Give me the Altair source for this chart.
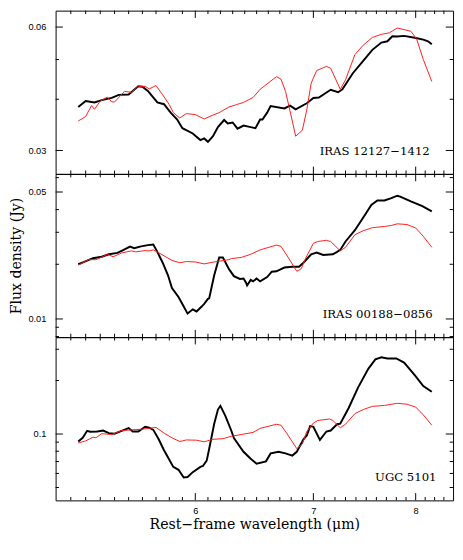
import altair as alt
import pandas as pd

# ---------------- data (wavelength in micron, flux density in Jy) ----------------
# Panel 1: IRAS 12127-1412
p1_black_wl = [5.15, 5.20, 5.26, 5.31, 5.38, 5.43, 5.50, 5.57, 5.60, 5.64, 5.71, 5.76, 5.81, 5.86, 5.90,
               5.98, 6.04, 6.07, 6.10, 6.14, 6.18, 6.23, 6.26, 6.30, 6.34, 6.39, 6.45, 6.49, 6.53, 6.55,
               6.59, 6.62, 6.74, 6.79, 6.84, 6.94, 7.00, 7.05, 7.16, 7.23, 7.27, 7.37, 7.46, 7.56, 7.65,
               7.71, 7.76, 7.81, 7.88, 7.99, 8.08, 8.13, 8.17]
p1_black_f = [0.0383, 0.0396, 0.0393, 0.0398, 0.0403, 0.0410, 0.0411, 0.0430, 0.0429, 0.0419, 0.0393,
              0.0389, 0.0371, 0.0357, 0.0340, 0.0330, 0.0318, 0.0321, 0.0315, 0.0325, 0.0342, 0.0356,
              0.0349, 0.0351, 0.0339, 0.0345, 0.0342, 0.0340, 0.0357, 0.0357, 0.0371, 0.0385, 0.0380,
              0.0386, 0.0378, 0.0391, 0.0403, 0.0404, 0.0422, 0.0416, 0.0423, 0.0463, 0.0493, 0.0528,
              0.0550, 0.0554, 0.0570, 0.0569, 0.0571, 0.0565, 0.0559, 0.0554, 0.0545]
p1_red_wl = [5.15, 5.20, 5.24, 5.26, 5.30, 5.35, 5.38, 5.40, 5.47, 5.52, 5.57, 5.62, 5.65, 5.70, 5.75,
             5.80, 5.83, 5.88, 5.93, 6.00, 6.07, 6.14, 6.19, 6.27, 6.33, 6.39, 6.47, 6.53, 6.67, 6.71,
             6.75, 6.80, 6.84, 6.90, 6.94, 6.98, 7.03, 7.12, 7.16, 7.25, 7.30, 7.39, 7.47, 7.56, 7.65,
             7.73, 7.81, 7.95, 8.01, 8.08, 8.17]
p1_red_f = [0.0354, 0.0363, 0.0386, 0.0378, 0.0396, 0.0405, 0.0394, 0.0394, 0.0418, 0.0416, 0.0430,
            0.0430, 0.0424, 0.0432, 0.0410, 0.0388, 0.0371, 0.0360, 0.0369, 0.0367, 0.0358, 0.0366,
            0.0371, 0.0383, 0.0388, 0.0393, 0.0404, 0.0423, 0.0454, 0.0448, 0.0418, 0.0364, 0.0325,
            0.0336, 0.0377, 0.0438, 0.0470, 0.0481, 0.0476, 0.0423, 0.0446, 0.0514, 0.0542, 0.0566,
            0.0576, 0.0581, 0.0597, 0.0586, 0.0561, 0.0500, 0.0442]

# Panel 2: IRAS 00188-0856
p2_black_wl = [5.15, 5.19, 5.25, 5.31, 5.36, 5.42, 5.45, 5.51, 5.54, 5.59, 5.64, 5.68, 5.71, 5.75, 5.79,
               5.82, 5.87, 5.91, 5.94, 5.98, 6.01, 6.05, 6.07, 6.10, 6.11, 6.15, 6.19, 6.22, 6.27, 6.31,
               6.36, 6.39, 6.41, 6.42, 6.45, 6.47, 6.50, 6.53, 6.59, 6.63, 6.67, 6.74, 6.81, 6.87, 6.91,
               6.98, 7.03, 7.09, 7.18, 7.22, 7.25, 7.30, 7.39, 7.49, 7.55, 7.61, 7.68, 7.75, 7.81, 7.84,
               7.95, 8.07, 8.17]
p2_black_f = [0.0200, 0.0206, 0.0216, 0.0220, 0.0227, 0.0231, 0.0237, 0.0250, 0.0245, 0.0251, 0.0255,
              0.0257, 0.0234, 0.0204, 0.0174, 0.0148, 0.0132, 0.0117, 0.0107, 0.0113, 0.0110, 0.0117,
              0.0121, 0.0129, 0.0130, 0.0174, 0.0218, 0.0218, 0.0188, 0.0172, 0.0166, 0.0167, 0.0159,
              0.0153, 0.0164, 0.0161, 0.0167, 0.0161, 0.0170, 0.0182, 0.0183, 0.0192, 0.0194, 0.0194,
              0.0204, 0.0227, 0.0232, 0.0225, 0.0227, 0.0234, 0.0240, 0.0267, 0.0308, 0.0376, 0.0424,
              0.0449, 0.0449, 0.0463, 0.0477, 0.0472, 0.0444, 0.0418, 0.0391]
p2_red_wl = [5.15, 5.22, 5.27, 5.31, 5.35, 5.39, 5.45, 5.52, 5.55, 5.62, 5.65, 5.68, 5.75, 5.82, 5.88,
             5.93, 6.00, 6.07, 6.15, 6.27, 6.29, 6.37, 6.45, 6.53, 6.67, 6.71, 6.76, 6.85, 6.89, 6.93,
             7.00, 7.04, 7.12, 7.16, 7.25, 7.30, 7.39, 7.47, 7.56, 7.68, 7.75, 7.81, 7.91, 8.00, 8.08,
             8.17]
p2_red_f = [0.0198, 0.0212, 0.0212, 0.0219, 0.0227, 0.0220, 0.0231, 0.0237, 0.0234, 0.0238, 0.0237,
            0.0240, 0.0225, 0.0210, 0.0204, 0.0207, 0.0206, 0.0201, 0.0206, 0.0212, 0.0215, 0.0218,
            0.0227, 0.0240, 0.0255, 0.0251, 0.0225, 0.0183, 0.0189, 0.0216, 0.0261, 0.0267, 0.0271,
            0.0267, 0.0237, 0.0248, 0.0291, 0.0306, 0.0318, 0.0323, 0.0327, 0.0334, 0.0331, 0.0317,
            0.0285, 0.0248]

# Panel 3: UGC 5101
p3_black_wl = [5.15, 5.18, 5.21, 5.23, 5.28, 5.32, 5.36, 5.40, 5.45, 5.50, 5.53, 5.57, 5.62, 5.65, 5.68,
               5.72, 5.76, 5.80, 5.83, 5.87, 5.91, 5.94, 5.98, 6.04, 6.06, 6.09, 6.11, 6.15, 6.18, 6.20,
               6.24, 6.29, 6.31, 6.39, 6.45, 6.50, 6.58, 6.62, 6.69, 6.75, 6.81, 6.85, 6.91, 6.94, 6.97,
               7.00, 7.06, 7.12, 7.16, 7.22, 7.25, 7.33, 7.42, 7.52, 7.59, 7.65, 7.71, 7.80, 7.88, 7.99,
               8.08, 8.17]
p3_black_f = [0.0907, 0.0952, 0.1042, 0.1030, 0.1033, 0.1046, 0.1012, 0.1005, 0.1042, 0.1081, 0.1033,
              0.1033, 0.1098, 0.1085, 0.1055, 0.0934, 0.0810, 0.0717, 0.0653, 0.0629, 0.0569, 0.0573,
              0.0610, 0.0653, 0.0661, 0.0708, 0.0827, 0.1143, 0.1373, 0.1441, 0.1266, 0.1040, 0.0950,
              0.0794, 0.0726, 0.0681, 0.0702, 0.0778, 0.0794, 0.0778, 0.0756, 0.0794, 0.0934, 0.0981,
              0.1108, 0.1098, 0.0926, 0.1033, 0.1046, 0.1135, 0.1143, 0.1401, 0.1825, 0.2329, 0.2631,
              0.2705, 0.2663, 0.2663, 0.2524, 0.2147, 0.1861, 0.1730]
p3_red_wl = [5.15, 5.20, 5.25, 5.27, 5.31, 5.38, 5.45, 5.52, 5.59, 5.65, 5.70, 5.76, 5.82, 5.88, 5.93,
             6.01, 6.07, 6.14, 6.22, 6.29, 6.37, 6.47, 6.53, 6.67, 6.71, 6.76, 6.85, 6.90, 6.94, 7.00,
             7.04, 7.15, 7.18, 7.25, 7.30, 7.39, 7.47, 7.56, 7.68, 7.81, 7.91, 8.00, 8.08, 8.17]
p3_red_f = [0.0890, 0.0915, 0.0960, 0.0952, 0.1005, 0.0993, 0.1046, 0.1055, 0.1063, 0.1076, 0.1089,
            0.1012, 0.0952, 0.0907, 0.0926, 0.0923, 0.0904, 0.0934, 0.0941, 0.0972, 0.0993, 0.1021,
            0.1076, 0.1135, 0.1121, 0.1012, 0.0827, 0.0879, 0.1033, 0.1153, 0.1192, 0.1215, 0.1192,
            0.1085, 0.1135, 0.1303, 0.1373, 0.1431, 0.1448, 0.1489, 0.1471, 0.1419, 0.1282, 0.1121]

# axis domains and tick positions
x_domain = [5.0, 8.4]
x_major = [6, 7, 8]
x_minor = [5.1, 5.2, 5.3, 5.4, 5.5, 5.6, 5.7, 5.8, 5.9, 6.1, 6.2, 6.3, 6.4, 6.5, 6.6, 6.7, 6.8, 6.9,
           7.1, 7.2, 7.3, 7.4, 7.5, 7.6, 7.7, 7.8, 7.9, 8.1, 8.2, 8.3]

p1_ydomain = [0.0263, 0.0658]
p1_ymajor = [0.03, 0.06]
p1_yminor = [0.04, 0.05]
p2_ydomain = [0.00794, 0.0629]
p2_ymajor = [0.01, 0.05]
p2_yminor = [0.008, 0.009, 0.02, 0.03, 0.04, 0.06]
p3_ydomain = [0.0423, 0.351]
p3_ymajor = [0.1]
p3_yminor = [0.05, 0.06, 0.07, 0.08, 0.09, 0.2, 0.3]

names = ["IRAS 12127\u22121412", "IRAS 00188\u22120856", "UGC 5101"]
x_title = "Rest\u2212frame wavelength (\u03bcm)"
y_title = "Flux density (Jy)"

# ---------------- layout / style ----------------
W = 409
H = 168
MAJ = 7.5
MIN = 3.5
LABEL_FONT = "Liberation Sans"
TITLE_FONT = "DejaVu Serif"


def panel(bw, bf, rw, rf, ydom, ymaj, ymin, name, name_dx, bottom, ytitle):
    xs = alt.Scale(type="log", domain=x_domain, nice=False, zero=False)
    ys = alt.Scale(type="log", domain=ydom, nice=False, zero=False)
    if bottom:
        xaxis = alt.Axis(values=x_major, format="d", ticks=False, domain=False, grid=False,
                         labelFont=LABEL_FONT, labelFontSize=9.5, labelColor="black", labelPadding=5,
                         title=x_title, titleFont=TITLE_FONT, titleFontSize=14.5,
                         titleFontWeight="normal", titleColor="black", titlePadding=3)
        X = alt.X("wl:Q", scale=xs, axis=xaxis)
    else:
        X = alt.X("wl:Q", scale=xs, axis=None)
    if ytitle:
        yaxis = alt.Axis(values=ymaj, format="~g", ticks=False, domain=False, grid=False,
                         labelFont=LABEL_FONT, labelFontSize=9.5, labelColor="black", labelPadding=10,
                         title=ytitle, titleFont=TITLE_FONT, titleFontSize=14.5,
                         titleFontWeight="normal", titleColor="black", titlePadding=5)
    else:
        yaxis = alt.Axis(values=ymaj, format="~g", ticks=False, domain=False, grid=False,
                         labelFont=LABEL_FONT, labelFontSize=9.5, labelColor="black", labelPadding=10,
                         title=None)
    Y = alt.Y("f:Q", scale=ys, axis=yaxis)

    black = alt.Chart(pd.DataFrame({"wl": bw, "f": bf})).mark_line(
        color="black", strokeWidth=2).encode(x=X, y=Y)
    red = alt.Chart(pd.DataFrame({"wl": rw, "f": rf})).mark_line(
        color="#ff1a1a", strokeWidth=1).encode(x=X, y=Y)

    xmin_df = pd.DataFrame({"wl": x_minor})
    xmaj_df = pd.DataFrame({"wl": x_major})
    ymin_df = pd.DataFrame({"f": ymin})
    ymaj_df = pd.DataFrame({"f": ymaj})

    def xt(df, ln):
        b = alt.Chart(df).mark_rule(color="black", strokeWidth=1).encode(
            x=X, y=alt.value(H), y2=alt.value(H - ln))
        t = alt.Chart(df).mark_rule(color="black", strokeWidth=1).encode(
            x=X, y=alt.value(0), y2=alt.value(ln))
        return [b, t]

    def yt(df, ln):
        l = alt.Chart(df).mark_rule(color="black", strokeWidth=1).encode(
            y=Y, x=alt.value(0), x2=alt.value(ln))
        r = alt.Chart(df).mark_rule(color="black", strokeWidth=1).encode(
            y=Y, x=alt.value(W), x2=alt.value(W - ln))
        return [l, r]

    label = alt.Chart(pd.DataFrame({"t": [name]})).mark_text(
        align="right", baseline="alphabetic", font=TITLE_FONT, fontSize=12, color="black").encode(
        x=alt.value(W - name_dx), y=alt.value(H - 19.5), text="t:N")

    layers = [black, red] + xt(xmin_df, MIN) + xt(xmaj_df, MAJ) + yt(ymin_df, MIN) + yt(ymaj_df, MAJ) + [label]
    return alt.layer(*layers).properties(width=W, height=H)


p1 = panel(p1_black_wl, p1_black_f, p1_red_wl, p1_red_f, p1_ydomain, p1_ymajor, p1_yminor,
           names[0], 24, False, None)
p2 = panel(p2_black_wl, p2_black_f, p2_red_wl, p2_red_f, p2_ydomain, p2_ymajor, p2_yminor,
           names[1], 21, False, y_title)
p3 = panel(p3_black_wl, p3_black_f, p3_red_wl, p3_red_f, p3_ydomain, p3_ymajor, p3_yminor,
           names[2], 17, True, None)

chart = alt.vconcat(p1, p2, p3, spacing=0, bounds="flush").resolve_scale(
    x="independent", y="independent"
).configure_view(
    stroke="black", strokeWidth=1
).properties(
    padding={"left": 0, "top": -6, "right": 1, "bottom": 0},
    background="white"
)

chart.save("out.html", embed_options={"renderer": "svg", "actions": False})
